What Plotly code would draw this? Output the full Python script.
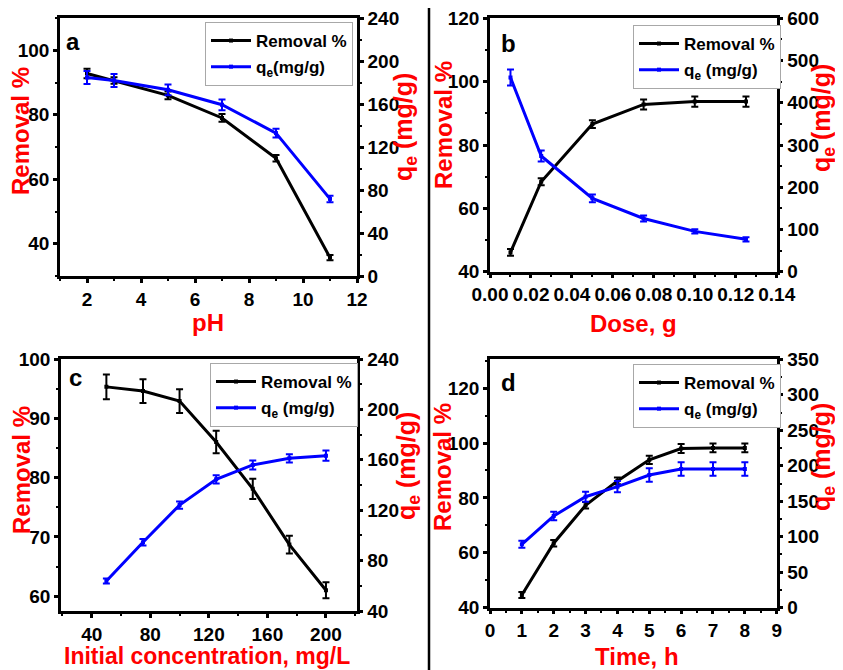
import plotly.graph_objects as go

W, H = 843, 670
OFF = 8  # page body margin of the rendered html
FONT = "Liberation Sans, Arial, sans-serif"

# ---------------- data ----------------
ph = [2, 3, 5, 7, 9, 11]
ph_removal = [92.8, 90.6, 86.0, 79.0, 66.5, 35.7]
ph_removal_err = [1.5, 1.0, 1.2, 1.2, 1.0, 0.8]
ph_qe = [184.7, 181.9, 173.2, 159.3, 132.9, 71.7]
ph_qe_err = [6.0, 6.0, 5.0, 5.0, 4.0, 3.0]

dose = [0.01, 0.025, 0.05, 0.075, 0.10, 0.125]
dose_removal = [46.1, 68.4, 86.6, 92.8, 93.7, 93.7]
dose_removal_err = [1.1, 1.1, 1.2, 1.6, 1.6, 1.6]
dose_qe = [460, 274, 173.7, 126, 95.5, 76.6]
dose_qe_err = [19, 13, 9, 7, 5, 5]

conc = [50, 75, 100, 125, 150, 175, 200]
conc_removal = [95.3, 94.6, 92.9, 86.0, 78.1, 68.7, 61.0]
conc_removal_err = [2.1, 2.0, 2.0, 1.9, 1.7, 1.5, 1.35]
conc_qe = [63.8, 94.5, 124.1, 144.5, 155.9, 161.2, 163.3]
conc_qe_err = [2.0, 2.6, 2.9, 3.3, 3.6, 3.3, 4.0]

time_h = [1, 2, 3, 4, 5, 6, 7, 8]
time_removal = [44.6, 63.5, 77.3, 86.2, 93.9, 98.0, 98.2, 98.2]
time_removal_err = [1.1, 1.2, 1.2, 1.2, 1.5, 1.6, 1.6, 1.6]
time_qe = [89.3, 129.2, 156.4, 170.5, 187.0, 195.4, 195.4, 195.4]
time_qe_err = [5, 6, 7, 8, 9.4, 9.4, 9.4, 9.4]

removal_name = "Removal %"
qe_names = ["q<sub>e</sub>(mg/g)", "q<sub>e</sub> (mg/g)", "q<sub>e</sub> (mg/g)", "q<sub>e</sub> (mg/g)"]
x_titles = ["pH", "Dose, g", "Initial concentration, mg/L", "Time, h"]
panel_letters = ["a", "b", "c", "d"]


def PX(px):
    return (px - OFF) / W


def PY(py):
    return 1 - (py - OFF) / H


# ---------------- layout geometry (pixels in the reference) ----------------
panels = [
    dict(x=(60, 357), y=(18, 276)),
    dict(x=(490, 776.7), y=(18.3, 271.7)),
    dict(x=(61, 356.7), y=(359, 611)),
    dict(x=(490, 776.7), y=(359.3, 607.7)),
]

fig = go.Figure()

datasets = [
    (ph, ph_removal, ph_removal_err, ph_qe, ph_qe_err),
    (dose, dose_removal, dose_removal_err, dose_qe, dose_qe_err),
    (conc, conc_removal, conc_removal_err, conc_qe, conc_qe_err),
    (time_h, time_removal, time_removal_err, time_qe, time_qe_err),
]

for i, (xv, rv, re, qv, qe) in enumerate(datasets):
    xa = "x" if i == 0 else f"x{i+1}"
    yl = "y" if i == 0 else f"y{2*i+1}"
    yr = f"y{2*i+2}"
    leg = "legend" if i == 0 else f"legend{i+1}"
    fig.add_trace(go.Scatter(
        x=xv, y=rv, name=removal_name, mode="lines+markers",
        line=dict(color="black", width=3),
        marker=dict(color="black", size=4, symbol="square"),
        error_y=dict(type="data", array=re, color="black", thickness=2, width=3.5),
        xaxis=xa, yaxis=yl, legend=leg, legendgroup=f"r{i}"))
    fig.add_trace(go.Scatter(
        x=xv, y=qv, name=qe_names[i], mode="lines+markers",
        line=dict(color="#0000ff", width=3),
        marker=dict(color="#0000ff", size=4, symbol="square"),
        error_y=dict(type="data", array=qe, color="#0000ff", thickness=2, width=3.5),
        xaxis=xa, yaxis=yr, legend=leg, legendgroup=f"q{i}"))

tickfont = dict(family=FONT, size=19, color="black", weight="bold")


def axis_common():
    return dict(showline=True, linecolor="black", linewidth=2.5, ticks="outside",
                ticklen=4, tickwidth=2.5, tickcolor="black", tickfont=tickfont,
                showgrid=False, zeroline=False, automargin=False, tickangle=0)


x_specs = [
    dict(range=[1, 12], tick0=0, dtick=2, minor=1, fmt=None),
    dict(range=[0, 0.14], tick0=0, dtick=0.02, minor=0.01, fmt=".2f"),
    dict(range=[19, 221], tick0=0, dtick=40, minor=20, fmt=None),
    dict(range=[0, 9], tick0=0, dtick=1, minor=0.5, fmt=None),
]
yl_specs = [
    dict(range=[30, 110], dtick=20, minor=10),
    dict(range=[40, 120], dtick=20, minor=10),
    dict(range=[57.5, 100], dtick=10, minor=5),
    dict(range=[40, 130.5], dtick=20, minor=10),
]
yr_specs = [
    dict(range=[0, 240], dtick=40, minor=20),
    dict(range=[0, 600], dtick=100, minor=50),
    dict(range=[40, 240], dtick=40, minor=20),
    dict(range=[0, 350], dtick=50, minor=25),
]

layout = {}
for i, p in enumerate(panels):
    xd = [PX(p["x"][0]), PX(p["x"][1])]
    yd = [PY(p["y"][1]), PY(p["y"][0])]
    xk = "xaxis" if i == 0 else f"xaxis{i+1}"
    ylk = "yaxis" if i == 0 else f"yaxis{2*i+1}"
    yrk = f"yaxis{2*i+2}"
    xname = "x" if i == 0 else f"x{i+1}"
    ylname = "y" if i == 0 else f"y{2*i+1}"
    xs, ls, rs = x_specs[i], yl_specs[i], yr_specs[i]
    xa = axis_common()
    xa.update(domain=xd, anchor=ylname, range=xs["range"], tick0=xs["tick0"],
              dtick=xs["dtick"], mirror=True,
              minor=dict(ticks="outside", ticklen=2.5, tickwidth=2, tickcolor="black",
                         dtick=xs["minor"]))
    if xs["fmt"]:
        xa["tickformat"] = xs["fmt"]
    ya = axis_common()
    ya.update(domain=yd, anchor=xname, range=ls["range"], tick0=0, dtick=ls["dtick"],
              minor=dict(ticks="outside", ticklen=2.5, tickwidth=2, tickcolor="black",
                         dtick=ls["minor"]))
    yb = axis_common()
    yb.update(domain=yd, anchor=xname, overlaying=ylname, side="right",
              range=rs["range"], tick0=0, dtick=rs["dtick"],
              minor=dict(ticks="outside", ticklen=2.5, tickwidth=2, tickcolor="black",
                         dtick=rs["minor"]))
    layout[xk] = xa
    layout[ylk] = ya
    layout[yrk] = yb

legend_pos = [(205, 22), (633, 25), (210, 363), (633, 364)]
for i, (lx, ly) in enumerate(legend_pos):
    lk = "legend" if i == 0 else f"legend{i+1}"
    layout[lk] = dict(x=PX(lx), y=PY(ly), xanchor="left", yanchor="top",
                      bgcolor="white", bordercolor="#a8a8a8", borderwidth=1,
                      font=dict(family=FONT, size=17, color="black", weight="bold"),
                      itemwidth=40, tracegroupgap=1)

ann = []
RED = "#ff0000"


def add_text(text, px, py, size, color, angle=0):
    ann.append(dict(text=text, x=PX(px), y=PY(py), xref="paper", yref="paper",
                    xanchor="center", yanchor="middle", showarrow=False, textangle=angle,
                    font=dict(family=FONT, size=size, color=color, weight="bold")))


left_title_pos = [(20, 131), (444, 125), (21, 470), (442, 467)]
right_title_pos = [(405, 127), (823, 118), (408, 466), (823, 457)]
bottom_title_pos = [(208, 322), (633, 323), (207, 656), (637, 656)]
bottom_title_size = [24, 24, 23, 24]
letter_pos = [(73, 42), (508, 43), (75, 377), (508, 383)]
for i in range(4):
    add_text("Removal %", *left_title_pos[i], 24, RED, -90)
    add_text("q<sub>e</sub> (mg/g)", *right_title_pos[i], 25, RED, -90)
    add_text(x_titles[i], *bottom_title_pos[i], bottom_title_size[i], RED)
    add_text(panel_letters[i], *letter_pos[i], 24, "black")

layout["annotations"] = ann
layout["shapes"] = [dict(type="line", xref="paper", yref="paper", x0=PX(429), x1=PX(429),
                         y0=0, y1=1, line=dict(color="black", width=2.5))]

fig.update_layout(**layout)
fig.update_layout(width=W, height=H, margin=dict(l=0, r=0, t=0, b=0, autoexpand=False),
                  paper_bgcolor="white", plot_bgcolor="white", showlegend=True,
                  font=dict(family=FONT))

fig.write_html("out.html")
